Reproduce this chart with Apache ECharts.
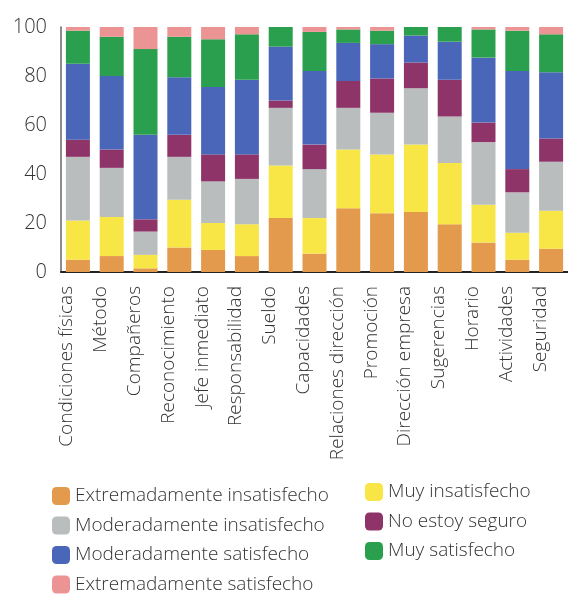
<!DOCTYPE html>
<html>
<head>
<meta charset="utf-8">
<script src="https://cdn.jsdelivr.net/npm/echarts@6/dist/echarts.min.js"></script>
<style>
  html, body { margin: 0; padding: 0; background: #fff; }
  #chart { width: 568px; height: 595px; }
</style>
</head>
<body>
<div id="chart"></div>
<script>
// --- data ---
const categories = [
    'Condiciones físicas', 'Método', 'Compañeros', 'Reconocimiento', 'Jefe inmediato',
    'Responsabilidad', 'Sueldo', 'Capacidades', 'Relaciones dirección', 'Promoción',
    'Dirección empresa', 'Sugerencias', 'Horario', 'Actividades', 'Seguridad'
];
const yTicks = [0, 20, 40, 60, 80, 100];

const extInsat  = [5, 6.5, 1.5, 10, 9, 6.5, 22, 7.5, 26, 24, 24.5, 19.5, 12, 5, 9.5];
const muyInsat  = [16, 16, 5.5, 19.5, 11, 13, 21.5, 14.5, 24, 24, 27.5, 25, 15.5, 11, 15.5];
const modInsat  = [26, 20, 9.5, 17.5, 17, 18.5, 23.5, 20, 17, 17, 23, 19, 25.5, 16.5, 20];
const noSeguro  = [7, 7.5, 5, 9, 11, 10, 3, 10, 11, 14, 10.5, 15, 8, 9.5, 9.5];
const modSat    = [31, 30, 34.5, 23.5, 27.5, 30.5, 22, 30, 15.5, 14, 11, 15.5, 26.5, 40, 27];
const muySat    = [13.5, 16, 35, 16.5, 19.5, 18.5, 8, 16, 5.5, 5.5, 3.5, 6, 11.5, 16.5, 15.5];
const extSat    = [1.5, 4, 9, 4, 5, 3, 0, 2, 1, 1.5, 0, 0, 1, 1.5, 3];

const seriesDefs = [
    { name: 'Extremadamente insatisfecho', data: extInsat, color: '#e39a4c' },
    { name: 'Muy insatisfecho', data: muyInsat, color: '#f8e646' },
    { name: 'Moderadamente insatisfecho', data: modInsat, color: '#b9bdbd' },
    { name: 'No estoy seguro', data: noSeguro, color: '#8e3468' },
    { name: 'Moderadamente satisfecho', data: modSat, color: '#4a66b8' },
    { name: 'Muy satisfecho', data: muySat, color: '#2aa04e' },
    { name: 'Extremadamente satisfecho', data: extSat, color: '#ec9494' }
];

const font = '"Open Sans", "DejaVu Sans", sans-serif';
const chart = echarts.init(document.getElementById('chart'));

const legendText = { fontSize: 19, color: '#333', fontFamily: font, fontWeight: 300, lineHeight: 20 };

chart.setOption({
    backgroundColor: '#fff',
    animation: false,
    grid: { left: 61, top: 27, width: 507, bottom: 323 },
    legend: [
        {
            orient: 'vertical', left: 52, top: 486, height: 140, padding: 0,
            itemWidth: 18, itemHeight: 18, itemGap: 9.5,
            textStyle: legendText,
            data: ['Extremadamente insatisfecho', 'Moderadamente insatisfecho',
                   'Moderadamente satisfecho', 'Extremadamente satisfecho']
        },
        {
            orient: 'vertical', left: 365, top: 482, height: 140, padding: 0,
            itemWidth: 18, itemHeight: 18, itemGap: 9.5,
            textStyle: legendText,
            data: ['Muy insatisfecho', 'No estoy seguro', 'Muy satisfecho']
        }
    ],
    xAxis: {
        type: 'category',
        data: categories,
        axisLine: { lineStyle: { color: '#222', width: 2 } },
        axisTick: { show: false },
        axisLabel: {
            rotate: 90, interval: 0, margin: 14,
            verticalAlign: 'bottom', lineHeight: 22,
            fontSize: 19, color: '#333', fontFamily: font, fontWeight: 300
        }
    },
    yAxis: {
        type: 'value',
        min: 0, max: 100, interval: 20,
        axisLine: { show: true, lineStyle: { color: '#666', width: 1.5 } },
        axisTick: { show: false },
        splitLine: { show: false },
        axisLabel: {
            margin: 14, fontSize: 20, color: '#333', fontFamily: font, fontWeight: 300,
            formatter: v => yTicks.includes(v) ? String(v) : ''
        }
    },
    series: seriesDefs.map(s => ({
        name: s.name,
        type: 'bar',
        stack: 'total',
        barWidth: 24,
        data: s.data,
        itemStyle: { color: s.color }
    }))
});
</script>
</body>
</html>
